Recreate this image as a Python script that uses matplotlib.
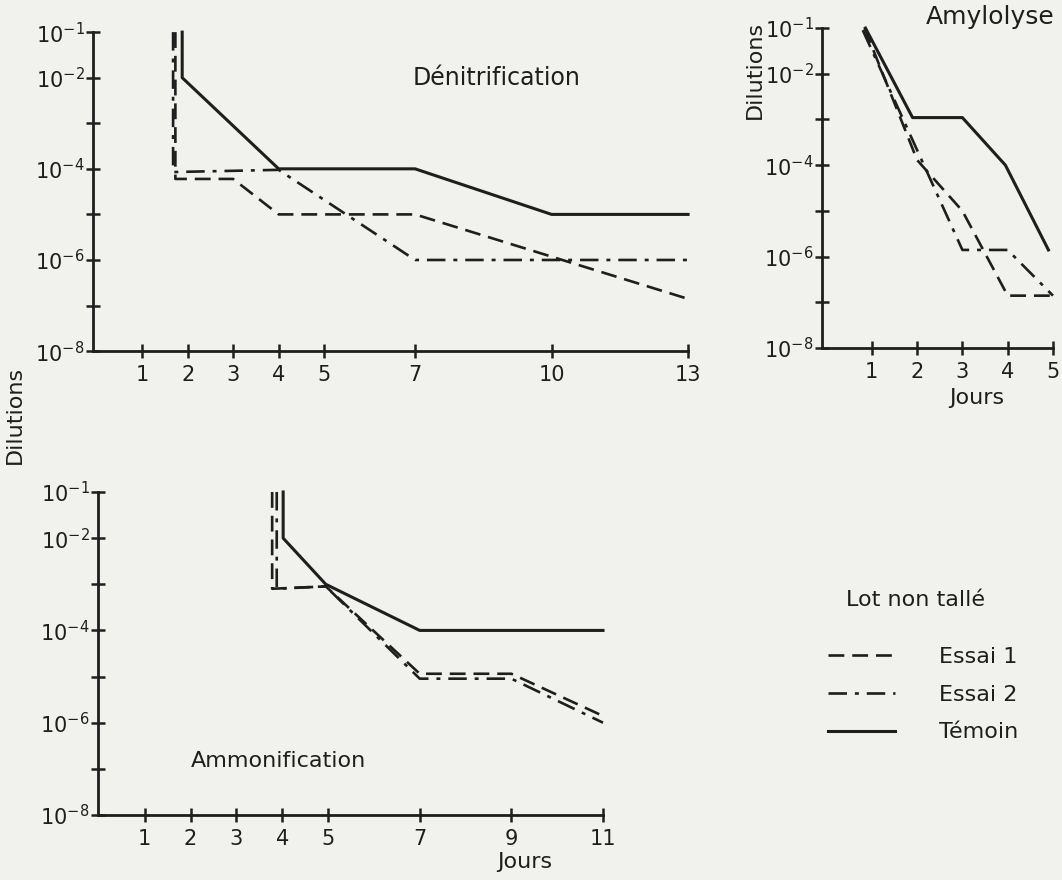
"""
Dilution curves: Dénitrification, Amylolyse, Ammonification (lot non tallé)
"""
import matplotlib
matplotlib.use("Agg")
import matplotlib.pyplot as plt
from matplotlib.lines import Line2D

plt.rcParams["font.family"] = ["DejaVu Sans"]
plt.rcParams["mathtext.default"] = "regular"

# ── Data ──────────────────────────────────────────────────────────────────────
# Dénitrification
den_x_essai1  = [1.73, 1.73, 3, 4, 7, 13]
den_y_essai1  = [1e-1, 6.0e-5, 6.0e-5, 1e-5, 1e-5, 1.4e-7]
den_x_essai2  = [1.68, 1.68, 4, 7, 13]
den_y_essai2  = [1e-1, 8.5e-5, 9.5e-5, 1e-6, 1e-6]
den_x_temoin  = [1.88, 1.88, 4, 7, 10, 13]
den_y_temoin  = [1e-1, 1e-2, 1e-4, 1e-4, 1e-5, 1e-5]
den_xticks    = [1, 2, 3, 4, 5, 7, 10, 13]

# Amylolyse
amy_x_essai1  = [0.84, 2, 3, 4, 5]
amy_y_essai1  = [1e-1, 1.3e-4, 1.0e-5, 1.4e-7, 1.4e-7]
amy_x_essai2  = [0.80, 3, 4, 5]
amy_y_essai2  = [9e-2, 1.4e-6, 1.4e-6, 1.4e-7]
amy_x_temoin  = [0.86, 1.9, 3, 3.95, 4.9]
amy_y_temoin  = [1e-1, 1.1e-3, 1.1e-3, 1e-4, 1.4e-6]
amy_xticks    = [1, 2, 3, 4, 5]

# Ammonification
amm_x_essai1  = [3.78, 3.78, 4.95, 7, 9, 11]
amm_y_essai1  = [1e-1, 8e-4, 9e-4, 1.15e-5, 1.15e-5, 1.4e-6]
amm_x_essai2  = [3.88, 3.88, 4.95, 7, 9, 11]
amm_y_essai2  = [1e-1, 8e-4, 9e-4, 9e-6, 9e-6, 1e-6]
amm_x_temoin  = [4.02, 4.02, 4.95, 7, 11]
amm_y_temoin  = [1e-1, 1e-2, 1e-3, 1e-4, 1e-4]
amm_xticks    = [1, 2, 3, 4, 5, 7, 9, 11]

ydecades = [1e-8, 1e-7, 1e-6, 1e-5, 1e-4, 1e-3, 1e-2, 1e-1]
ylabels  = ["$10^{-8}$", "", "$10^{-6}$", "", "$10^{-4}$", "", "$10^{-2}$", "$10^{-1}$"]
series   = ["Essai 1", "Essai 2", "Témoin"]

ink    = "#1e1e1e"
paper  = "#f1f1ed"
lw     = 1.9
dashed = (0, (6, 3))
dashdot = (0, (7, 3, 1.5, 3))

fig = plt.figure(figsize=(10.62, 8.80), dpi=100, facecolor=paper)


def setup(ax, xlim, xticks):
    ax.set_facecolor("none")
    ax.set_yscale("log")
    ax.set_ylim(1e-8, 1e-1)
    ax.set_xlim(*xlim)
    for s in ["top", "right"]:
        ax.spines[s].set_visible(False)
    for s in ["left", "bottom"]:
        ax.spines[s].set_linewidth(2)
        ax.spines[s].set_color(ink)
    ax.set_yticks(ydecades)
    ax.set_yticklabels(ylabels)
    ax.yaxis.set_minor_locator(matplotlib.ticker.NullLocator())
    ax.set_xticks(xticks)
    ax.set_xticklabels([str(t) for t in xticks])
    ax.tick_params(direction="inout", length=10, width=1.8, colors=ink,
                   labelsize=15)
    ax.tick_params(axis="y", pad=1)
    ax.tick_params(axis="x", pad=5)


def curves(ax, x1, y1, x2, y2, x3, y3):
    ax.plot(x1, y1, color=ink, lw=lw, linestyle=dashed, clip_on=False)
    ax.plot(x2, y2, color=ink, lw=lw, linestyle=dashdot, clip_on=False)
    ax.plot(x3, y3, color=ink, lw=lw + 0.3, linestyle="-", clip_on=False)


# ── Dénitrification ──────────────────────────────────────────────────────────
ax1 = fig.add_axes([0.0876, 0.601, 0.5603, 0.3625])
setup(ax1, (-0.08, 13), den_xticks)
curves(ax1, den_x_essai1, den_y_essai1, den_x_essai2, den_y_essai2,
       den_x_temoin, den_y_temoin)
fig.text(0.468, 0.911, "Dénitrification", ha="center", va="center",
         fontsize=17, color=ink)

# ── Amylolyse ────────────────────────────────────────────────────────────────
ax2 = fig.add_axes([0.774, 0.6045, 0.2175, 0.3636])
setup(ax2, (-0.1, 5), amy_xticks)
curves(ax2, amy_x_essai1, amy_y_essai1, amy_x_essai2, amy_y_essai2,
       amy_x_temoin, amy_y_temoin)
fig.text(0.932, 0.981, "Amylolyse", ha="center", va="center",
         fontsize=18, color=ink)
fig.text(0.920, 0.548, "Jours", ha="center", va="center", fontsize=16, color=ink)
fig.text(0.711, 0.920, "Dilutions", rotation=90, ha="center", va="center",
         fontsize=16, color=ink)

# ── Ammonification ───────────────────────────────────────────────────────────
ax3 = fig.add_axes([0.0923, 0.0739, 0.4755, 0.367])
setup(ax3, (-0.02, 11), amm_xticks)
curves(ax3, amm_x_essai1, amm_y_essai1, amm_x_essai2, amm_y_essai2,
       amm_x_temoin, amm_y_temoin)
fig.text(0.262, 0.135, "Ammonification", ha="center", va="center",
         fontsize=16, color=ink)
fig.text(0.494, 0.020, "Jours", ha="center", va="center", fontsize=16, color=ink)

fig.text(0.014, 0.528, "Dilutions", rotation=90, ha="center", va="center",
         fontsize=16, color=ink)

# ── Legend ───────────────────────────────────────────────────────────────────
fig.text(0.862, 0.318, "Lot non tallé", ha="center", va="center",
         fontsize=16, color=ink)
handles = [Line2D([], [], color=ink, lw=lw, linestyle=dashed),
           Line2D([], [], color=ink, lw=lw, linestyle=dashdot),
           Line2D([], [], color=ink, lw=lw + 0.3, linestyle="-")]
leg = fig.legend(handles, series, loc="upper left",
                 bbox_to_anchor=(0.7797, 0.265), frameon=False,
                 borderpad=0, borderaxespad=0,
                 fontsize=16, handlelength=3.0,
                 handletextpad=2.0, labelspacing=0.80)
for t in leg.get_texts():
    t.set_color(ink)

plt.savefig("out.png", dpi=100, facecolor=paper)
